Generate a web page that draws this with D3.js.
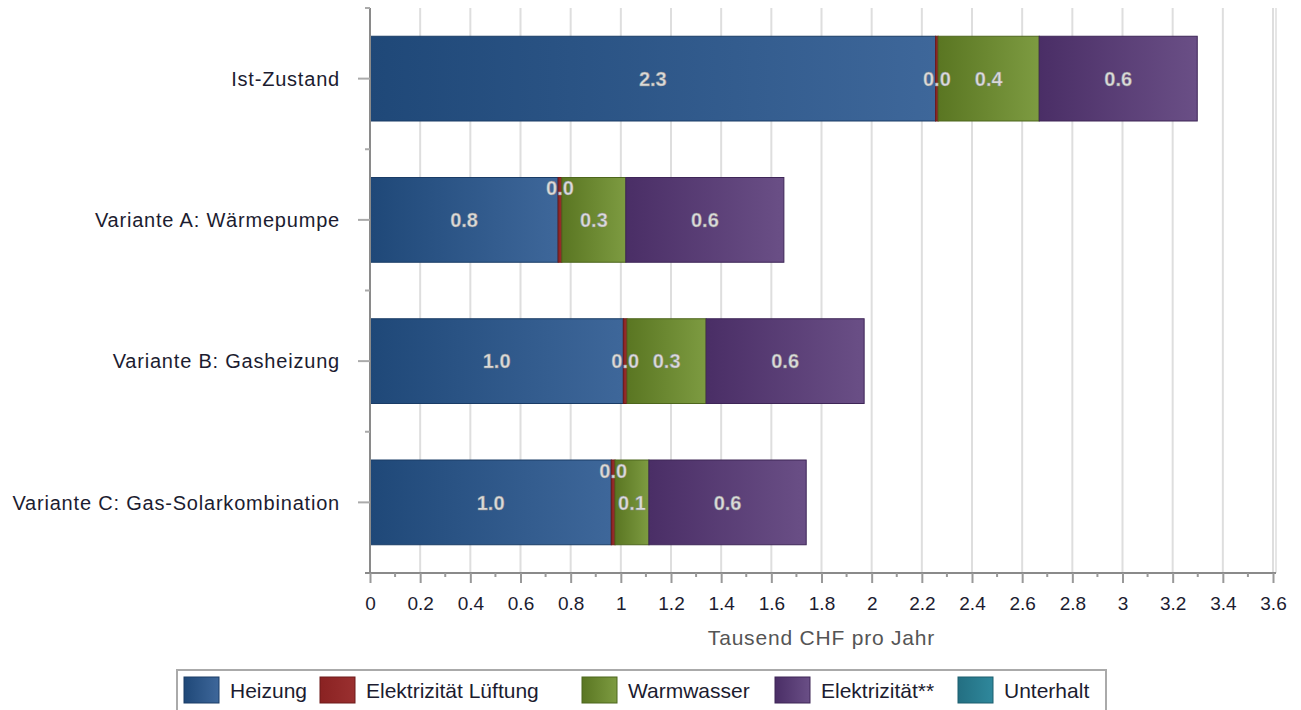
<!DOCTYPE html>
<html>
<head>
<meta charset="utf-8">
<script src="https://cdn.jsdelivr.net/npm/d3@7"></script>
<style>
  body { margin: 0; background: #fff; }
  svg { display: block; font-family: "Liberation Sans", Arial, sans-serif; }
</style>
</head>
<body>
<svg id="chart" width="1301" height="710"></svg>
<script>
// data (Tausend CHF pro Jahr)
var categories = ["Ist-Zustand", "Variante A: Wärmepumpe", "Variante B: Gasheizung", "Variante C: Gas-Solarkombination"]
var seriesNames = ["Heizung", "Elektrizität Lüftung", "Warmwasser", "Elektrizität**", "Unterhalt"]
var heizung      = [2.255, 0.75, 1.01, 0.962]
var lueftung     = [0.01, 0.015, 0.015, 0.015]
var warmwasser   = [0.403, 0.255, 0.315, 0.135]
var elektrizitaet = [0.63, 0.63, 0.63, 0.627]
var unterhalt    = [0, 0, 0, 0]
var xTickValues  = d3.range(0, 19).map(function(i){ return i / 5 })
var xMinorValues = d3.range(0, 37).map(function(i){ return i / 10 })
var axisTitle = "Tausend CHF pro Jahr"

// styles
var colorsFrom = ["#1f4878", "#8a2222", "#5a7622", "#4a2e66", "#236f82"]
var colorsTo   = ["#3e679a", "#9a3030", "#7d9b41", "#6a4f86", "#2f889c"]
var strokes    = ["#1a3c66", "#6e1a1a", "#4d661c", "#3e2657", "#1d5e6e"]
var legendX    = [184, 320, 582, 775, 958]

var table = categories.map(function(c, i){
  return {cat: c, Heizung: heizung[i], "Elektrizität Lüftung": lueftung[i],
          Warmwasser: warmwasser[i], "Elektrizität**": elektrizitaet[i], Unterhalt: unterhalt[i]}
})

var pLeft = 370, pRight = 1273, pTop = 8, pBottom = 573
var svg = d3.select("#chart")

var x = d3.scaleLinear().domain([0, 3.6]).range([pLeft, pRight])
var y = d3.scaleBand().domain(categories).range([pTop, pBottom]).paddingInner(0.4).paddingOuter(0.2)

// gradients
var defs = svg.append("defs")
seriesNames.forEach(function(s, i){
  var g = defs.append("linearGradient").attr("id", "grad" + i)
      .attr("x1", 0).attr("x2", 1).attr("y1", 0).attr("y2", 0)
  g.append("stop").attr("offset", "0%").attr("stop-color", colorsFrom[i])
  g.append("stop").attr("offset", "100%").attr("stop-color", colorsTo[i])
})

// vertical grid
svg.append("g").selectAll("line").data(xTickValues.slice(1)).join("line")
    .attr("x1", d => x(d)).attr("x2", d => x(d))
    .attr("y1", pTop).attr("y2", pBottom)
    .attr("stroke", "#dedede").attr("stroke-width", 2)
svg.append("line").attr("x1", pRight + 3).attr("x2", pRight + 3).attr("y1", pTop).attr("y2", pBottom)
    .attr("stroke", "#e6e6e6").attr("stroke-width", 2)

// stacked bars
var stack = d3.stack().keys(seriesNames)(table)
var layers = svg.append("g").selectAll("g").data(stack).join("g")
    .attr("fill", (d, i) => "url(#grad" + i + ")")
    .attr("stroke", (d, i) => strokes[i])
layers.selectAll("rect").data(d => d.filter(p => p[1] - p[0] > 0)).join("rect")
    .attr("x", d => x(d[0]))
    .attr("width", d => x(d[1]) - x(d[0]))
    .attr("y", d => y(d.data.cat))
    .attr("height", y.bandwidth())
    .attr("stroke-width", 1)

// value labels, small ones lifted when they crowd the next label
var fmt = d3.format(".1f")
var labels = []
table.forEach(function(row, ci){
  var row_labels = []
  stack.forEach(function(layer){
    var p = layer[ci]
    if (p[1] - p[0] <= 0) return
    row_labels.push({cx: x((p[0] + p[1]) / 2), cy: y(row.cat) + y.bandwidth() / 2, text: fmt(p[1] - p[0]), w: x(p[1]) - x(p[0])})
  })
  for (var k = 0; k < row_labels.length - 1; k++){
    var a = row_labels[k], b = row_labels[k + 1]
    if (b.cx - a.cx < 38){
      if (a.w < b.w) a.cy -= 32
      else b.cy -= 32
    }
  }
  labels = labels.concat(row_labels)
})
svg.append("g").selectAll("text").data(labels).join("text")
    .attr("x", d => d.cx).attr("y", d => d.cy)
    .attr("text-anchor", "middle").attr("dy", "0.36em")
    .attr("font-size", 20).attr("font-weight", "bold")
    .attr("fill", "#dadada").attr("stroke", "#8a8a8a").attr("stroke-width", 0.4)
    .text(d => d.text)

// y axis
svg.append("line").attr("x1", pLeft).attr("x2", pLeft).attr("y1", pTop).attr("y2", pBottom)
    .attr("stroke", "#8a8a8a").attr("stroke-width", 2)
var yMinor = [pTop].concat(categories.slice(0, -1).map(c => y(c) + y.bandwidth() + y.step() * 0.2)).concat([pBottom])
svg.append("g").selectAll("line").data(yMinor).join("line")
    .attr("x1", pLeft - 5).attr("x2", pLeft).attr("y1", d => d).attr("y2", d => d)
    .attr("stroke", "#aaa").attr("stroke-width", 2)
svg.append("g").selectAll("line").data(categories).join("line")
    .attr("x1", pLeft - 12).attr("x2", pLeft)
    .attr("y1", d => y(d) + y.bandwidth() / 2).attr("y2", d => y(d) + y.bandwidth() / 2)
    .attr("stroke", "#aaa").attr("stroke-width", 2)
svg.append("g").selectAll("text").data(categories).join("text")
    .attr("x", 340).attr("y", d => y(d) + y.bandwidth() / 2)
    .attr("dy", "0.36em").attr("text-anchor", "end")
    .attr("font-size", 20).attr("letter-spacing", 0.8).attr("fill", "#1c1c30")
    .text(d => d)

// x axis
var xAxis = d3.axisBottom(x).tickValues(xTickValues).tickSize(10).tickPadding(14)
    .tickFormat(d => String(+d.toFixed(1)))
var gx = svg.append("g").attr("transform", "translate(0," + pBottom + ")").call(xAxis)
gx.select(".domain").attr("stroke", "#8a8a8a").attr("stroke-width", 2).attr("d", "M" + (pLeft - 5) + ",0H" + (pRight + 3))
gx.selectAll(".tick line").attr("stroke", "#999").attr("stroke-width", 2)
gx.selectAll(".tick text").attr("font-size", 19).attr("fill", "#1c1c30")
    .attr("font-family", "\"Liberation Sans\", Arial, sans-serif")
svg.append("g").selectAll("line").data(xMinorValues.filter((d, i) => i % 2 == 1)).join("line")
    .attr("x1", d => x(d)).attr("x2", d => x(d)).attr("y1", pBottom).attr("y2", pBottom + 4)
    .attr("stroke", "#999").attr("stroke-width", 2)
svg.append("text").attr("x", (pLeft + pRight) / 2).attr("y", 645)
    .attr("text-anchor", "middle").attr("font-size", 21).attr("letter-spacing", 0.8)
    .attr("fill", "#555").text(axisTitle)

// legend
var legend = svg.append("g")
legend.append("rect").attr("x", 177).attr("y", 670).attr("width", 929).attr("height", 50)
    .attr("fill", "#fff").attr("stroke", "#aaa").attr("stroke-width", 2)
var items = legend.selectAll("g").data(seriesNames).join("g")
    .attr("transform", (d, i) => "translate(" + legendX[i] + ",677)")
items.append("rect").attr("width", 35).attr("height", 26)
    .attr("fill", (d, i) => "url(#grad" + i + ")").attr("stroke", (d, i) => strokes[i])
items.append("text").attr("x", 46).attr("y", 13).attr("dy", "0.36em")
    .attr("font-size", 21).attr("fill", "#1c1c30").text(d => d)
</script>
</body>
</html>
